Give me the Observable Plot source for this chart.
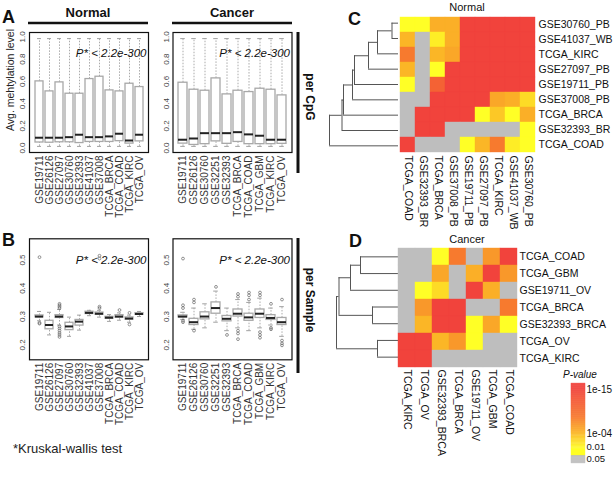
<!DOCTYPE html>
<html><head><meta charset="utf-8">
<script src="https://cdn.jsdelivr.net/npm/d3@7"></script>
<script src="https://cdn.jsdelivr.net/npm/@observablehq/plot@0.6"></script>
<style>
body{margin:0;background:#fff;}
#root{position:relative;width:616px;height:500px;overflow:hidden;background:#fff;}
</style></head><body><div id="root"></div>
<script>
const FONT = '"Liberation Sans", Arial, Helvetica, sans-serif';

// ---------- Panel A: per CpG (box summaries) ----------
const normalSets = ["GSE19711","GSE26126","GSE27097","GSE30760","GSE32393","GSE41037","GSE37008","TCGA_BRCA","TCGA_COAD","TCGA_KIRC","TCGA_OV"];
const cancerSets = ["GSE19711","GSE26126","GSE30760","GSE32251","GSE32393","TCGA_BRCA","TCGA_COAD","TCGA_GBM","TCGA_KIRC","TCGA_OV"];

const cpgNormalLo  = [0.015,0.015,0.015,0.015,0.015,0.015,0.015,0.015,0.015,0.015,0.015];
const cpgNormalQ1  = [0.050,0.048,0.052,0.052,0.045,0.055,0.055,0.055,0.062,0.040,0.060];
const cpgNormalMed = [0.093,0.093,0.093,0.098,0.120,0.098,0.098,0.105,0.129,0.068,0.120];
const cpgNormalQ3  = [0.600,0.510,0.591,0.489,0.489,0.621,0.642,0.519,0.510,0.579,0.549];
const cpgNormalHi  = [0.985,0.985,0.985,0.985,0.985,0.985,0.985,0.985,0.985,0.985,0.985];

const cpgCancerLo  = [0.015,0.015,0.015,0.015,0.015,0.015,0.015,0.015,0.015,0.015];
const cpgCancerQ1  = [0.040,0.028,0.035,0.060,0.038,0.055,0.035,0.035,0.035,0.038];
const cpgCancerMed = [0.075,0.086,0.134,0.134,0.134,0.143,0.123,0.111,0.075,0.075];
const cpgCancerQ3  = [0.588,0.525,0.516,0.627,0.483,0.516,0.504,0.534,0.525,0.474];
const cpgCancerHi  = [0.985,0.985,0.985,0.985,0.985,0.985,0.985,0.985,0.985,0.985];

// ---------- Panel B: per sample ----------
const smpNormalLo  = [0.285,0.235,0.270,0.230,0.252,0.303,0.298,0.283,0.287,0.280,0.300];
const smpNormalQ1  = [0.297,0.255,0.295,0.252,0.268,0.309,0.306,0.292,0.296,0.289,0.306];
const smpNormalMed = [0.300,0.270,0.300,0.265,0.282,0.313,0.310,0.296,0.300,0.293,0.309];
const smpNormalQ3  = [0.304,0.285,0.305,0.278,0.288,0.317,0.314,0.299,0.305,0.297,0.312];
const smpNormalHi  = [0.318,0.315,0.325,0.298,0.305,0.322,0.322,0.307,0.313,0.305,0.318];
const smpNormalOut = [[0.51,0.278,0.275],[],[0.228,0.235,0.242,0.25,0.258,0.265,0.33,0.335,0.34,0.345],[],[],[],[0.33,0.335,0.505,0.515],[],[0.323],[0.272,0.313],[]];

const smpCancerLo  = [0.290,0.255,0.260,0.280,0.250,0.260,0.250,0.260,0.270,0.230];
const smpCancerQ1  = [0.297,0.270,0.290,0.310,0.283,0.300,0.285,0.295,0.288,0.270];
const smpCancerMed = [0.300,0.280,0.300,0.330,0.292,0.310,0.297,0.310,0.295,0.280];
const smpCancerQ3  = [0.304,0.292,0.315,0.350,0.302,0.325,0.310,0.325,0.305,0.295];
const smpCancerHi  = [0.315,0.330,0.345,0.390,0.330,0.360,0.350,0.365,0.330,0.335];
const smpCancerOut = [[0.505,0.34,0.33,0.285,0.28],[0.35,0.36,0.25],[],[0.405],[0.235],[0.37,0.38,0.25,0.24,0.22],[0.36,0.375,0.385],[0.375,0.385,0.245,0.235,0.225],[0.345,0.26,0.255],[0.36,0.215,0.205,0.198]];

const pLabel = "P* < 2.2e-300";
const cpgTicks = [0, 0.2, 0.4, 0.6, 0.8, 1.0];
const smpTicks = [0.2, 0.3, 0.4, 0.5];

// ---------- Panel C: Normal pairwise -log10(P) ----------
const normalRows = ["GSE30760_PB","GSE41037_WB","TCGA_KIRC","GSE27097_PB","GSE19711_PB","GSE37008_PB","TCGA_BRCA","GSE32393_BR","TCGA_COAD"];
const normalCols = ["TCGA_COAD","GSE32393_BR","TCGA_BRCA","GSE37008_PB","GSE19711_PB","GSE27097_PB","TCGA_KIRC","GSE41037_WB","GSE30760_PB"];
const normalNegLogP = [
  [2,   2,   4.5, 4.5, 15, 15, 15, 15, 15],
  [4,   0.5, 2.5, 4.5, 15, 15, 15, 15, 15],
  [8,   0.5, 4,   5,   15, 15, 15, 15, 15],
  [4,   0.5, 2,   15,  15, 15, 15, 15, 15],
  [2,   0.5, 11,  15,  15, 15, 15, 15, 15],
  [0.5, 0.5, 15,  15,  15, 15, 5,  4.5, 3],
  [0.5, 15,  15,  15,  15, 2,  3.5, 2, 4.5],
  [0.5, 15,  15,  0.5, 0.5, 0.5, 0.5, 0.5, 2],
  [15,  0.5, 0.5, 0.5, 2,  4,  8,  2.5, 2]
];
// dendrogram merges: [a, b, height]; negative = leaf (row index+1), positive = earlier merge
const normalMerges = [[-1,-2,6.5],[1,-3,21],[2,-4,30],[3,-5,44],[4,-6,46],[5,-7,55],[6,-8,56.5],[7,-9,69]];

// ---------- Panel D: Cancer pairwise -log10(P) ----------
const cancerRows = ["TCGA_COAD","TCGA_GBM","GSE19711_OV","TCGA_BRCA","GSE32393_BRCA","TCGA_OV","TCGA_KIRC"];
const cancerCols = ["TCGA_KIRC","TCGA_OV","GSE32393_BRCA","TCGA_BRCA","GSE19711_OV","TCGA_GBM","TCGA_COAD"];
const cancerNegLogP = [
  [0.5, 0.5, 2,   8,   0.5, 6,   15],
  [0.5, 0.5, 5,   0.5, 4.5, 15,  6],
  [0.5, 2,   3,   0.5, 15,  4.5, 0.5],
  [0.5, 6,   15,  15,  0.5, 0.5, 8],
  [0.5, 4,   15,  15,  2,   5,   2],
  [15,  15,  4,   6,   2,   0.5, 0.5],
  [15,  15,  0.5, 0.5, 0.5, 0.5, 0.5]
];
const cancerMerges = [[-1,-2,38],[1,-3,48],[-4,-5,26],[2,3,59.5],[-6,-7,21],[4,5,62]];

// ---------- Legend ----------
const legendTickVals = [15, 4];
const legendTickLabels = ["1e-15", "1e-04"];
const legendLowVals = [2, 1.3];
const legendLowLabels = ["0.01", "0.05"];

const heatColor = {
  type: "linear",
  domain: [0, 1.3, 1.301, 2, 4, 8, 15],
  range: ["#bebebe", "#bebebe", "#ffff26", "#ffff26", "#fbb626", "#f77a2e", "#f1433c"],
  clamp: true
};

const root = document.getElementById("root");
function place(node, left, top) {
  node.style.position = "absolute";
  node.style.left = left + "px";
  node.style.top = top + "px";
  root.appendChild(node);
}
const baseStyle = {fontFamily: FONT, background: "none", overflow: "visible", color: "#222"};

function boxPanel(o) {
  const n = o.names.length;
  const rows = o.names.map((name, i) => ({name, lo: o.lo[i], q1: o.q1[i], med: o.med[i], q3: o.q3[i], hi: o.hi[i]}));
  const outs = o.out ? o.names.flatMap((name, i) => o.out[i].map(v => ({name, v}))) : [];
  const width = 150, height = 205;
  const fw = o.frameR - o.frameL;
  const step = fw / (n * 1.08);
  const cap = step * 0.8 / 4;
  const whisk = {stroke: "#a0a0a0", strokeWidth: 0.9, strokeDasharray: "1.5,1.5"};
  const fmt = d3.format(".1f");
  const plot = Plot.plot({
    width, height,
    marginLeft: o.frameL - o.left,
    marginRight: o.left + width - o.frameR,
    marginTop: o.frameT - o.top,
    marginBottom: o.top + height - o.frameB,
    x: {type: "band", domain: o.names, paddingInner: 0.2, paddingOuter: 0.1 + 0.04 * n, label: null},
    y: {domain: o.yDomain, label: null, axis: null},
    style: baseStyle,
    marks: [
      Plot.ruleX(rows, {x: "name", y1: "lo", y2: "q1", ...whisk}),
      Plot.ruleX(rows, {x: "name", y1: "q3", y2: "hi", ...whisk}),
      Plot.tickY(rows, {x: "name", y: "lo", stroke: "#a0a0a0", insetLeft: cap, insetRight: cap}),
      Plot.tickY(rows, {x: "name", y: "hi", stroke: "#a0a0a0", insetLeft: cap, insetRight: cap}),
      Plot.barY(rows, {x: "name", y1: "q1", y2: "q3", fill: "white", stroke: "#a8a8a8", strokeWidth: 1.3, inset: 0}),
      Plot.tickY(rows, {x: "name", y: "med", stroke: "#222", strokeWidth: 2}),
      Plot.dot(outs, {x: "name", y: "v", r: 1.4, stroke: "#666", strokeWidth: 0.7}),
      Plot.frame({stroke: "#111", strokeWidth: 1.2}),
      Plot.text([pLabel], {text: d => d, frameAnchor: "top-right", dx: -2, dy: o.pdy, fontStyle: "italic", fontSize: 11.5, fill: "#111"}),
      Plot.text(o.yTicks, {y: d => d, text: d => fmt(d), frameAnchor: "left", dx: -7, rotate: -90, textAnchor: "middle", fontSize: 8, fill: "#444"}),
      Plot.axisX({tickRotate: -90, fontSize: 10, tickSize: 0, tickPadding: 3, label: null, fill: "#333"})
    ]
  });
  place(plot, o.left, o.top);
}

boxPanel({names: normalSets, lo: cpgNormalLo, q1: cpgNormalQ1, med: cpgNormalMed, q3: cpgNormalQ3, hi: cpgNormalHi,
  yDomain: [-0.04, 1.04], yTicks: cpgTicks, left: 0, top: 25, frameL: 29, frameR: 148, frameT: 32, frameB: 152, pdy: 16});
boxPanel({names: cancerSets, lo: cpgCancerLo, q1: cpgCancerQ1, med: cpgCancerMed, q3: cpgCancerQ3, hi: cpgCancerHi,
  yDomain: [-0.04, 1.04], yTicks: cpgTicks, left: 144, top: 25, frameL: 172.5, frameR: 291.5, frameT: 32, frameB: 152, pdy: 16});
boxPanel({names: normalSets, lo: smpNormalLo, q1: smpNormalQ1, med: smpNormalMed, q3: smpNormalQ3, hi: smpNormalHi, out: smpNormalOut,
  yDomain: [0.147, 0.575], yTicks: smpTicks, left: 0, top: 230, frameL: 29, frameR: 148, frameT: 238.3, frameB: 359.3, pdy: 17});
boxPanel({names: cancerSets, lo: smpCancerLo, q1: smpCancerQ1, med: smpCancerMed, q3: smpCancerQ3, hi: smpCancerHi, out: smpCancerOut,
  yDomain: [0.147, 0.575], yTicks: smpTicks, left: 144, top: 230, frameL: 172.5, frameR: 291.5, frameT: 238.3, frameB: 359.3, pdy: 17});

function heatPanel(rowsN, colsN, mat, left, top, size) {
  const cells = [];
  rowsN.forEach((r, i) => colsN.forEach((c, j) => cells.push({row: r, col: c, v: mat[i][j]})));
  const plot = Plot.plot({
    width: size + 80, height: size + 110,
    marginLeft: 0, marginTop: 0, marginRight: 80, marginBottom: 110,
    x: {type: "band", domain: colsN, padding: 0, label: null},
    y: {type: "band", domain: rowsN, padding: 0, label: null},
    color: heatColor,
    style: baseStyle,
    marks: [
      Plot.cell(cells, {x: "col", y: "row", fill: "v", stroke: "v", strokeWidth: 0.4, inset: 0}),
      Plot.axisX({anchor: "bottom", tickRotate: 90, tickSize: 0, tickPadding: 2, fontSize: 10.5, label: null, fill: "#111"}),
      Plot.axisY({anchor: "right", tickSize: 0, tickPadding: 2, fontSize: 10.5, label: null, fill: "#111"})
    ]
  });
  place(plot, left, top);
}

function dendroPanel(merges, nLeaves, left, top, width, height) {
  const ys = [], hs = [];
  const verticals = [], horizontals = [];
  const get = k => k < 0 ? {y: -k - 1, h: 0} : {y: ys[k - 1], h: hs[k - 1]};
  merges.forEach(([a, b, h]) => {
    const A = get(a), B = get(b);
    verticals.push({h, y1: A.y, y2: B.y});
    horizontals.push({y: A.y, h1: h, h2: A.h});
    horizontals.push({y: B.y, h1: h, h2: B.h});
    ys.push((A.y + B.y) / 2);
    hs.push(h);
  });
  const plot = Plot.plot({
    width, height, margin: 0,
    x: {domain: [0, 80], range: [width, width - 80], axis: null},
    y: {domain: [-0.5, nLeaves - 0.5], range: [0, height], axis: null},
    style: baseStyle,
    marks: [
      Plot.ruleX(verticals, {x: "h", y1: "y1", y2: "y2", stroke: "#555", strokeWidth: 1}),
      Plot.ruleY(horizontals, {y: "y", x1: "h1", x2: "h2", stroke: "#555", strokeWidth: 1})
    ]
  });
  place(plot, left, top);
}

dendroPanel(normalMerges, 9, 318, 15, 80, 138);
heatPanel(normalRows, normalCols, normalNegLogP, 398, 15, 138);
dendroPanel(cancerMerges, 7, 318, 248, 80, 117);
heatPanel(cancerRows, cancerCols, cancerNegLogP, 398, 248, 119);

// legend
{
  const stops = d3.range(0, 16.5, 0.1);
  const plot = Plot.plot({
    width: 56, height: 100, margin: 0,
    x: {domain: [0, 1], range: [11, 25], axis: null},
    y: {type: "linear", domain: [0, 1.3, 2, 4, 15, 16.5], range: [93, 86, 79, 63, 19, 13], axis: null},
    color: heatColor,
    style: baseStyle,
    marks: [
      Plot.rect(stops, {x1: 0, x2: 1, y1: d => d, y2: d => d + 0.1, fill: d => d, stroke: d => d, strokeWidth: 0.3}),
      Plot.text(legendTickVals, {x: 1, y: d => d, text: (d, i) => legendTickLabels[i], textAnchor: "start", dx: 1, fontSize: 10, fill: "#111"}),
      Plot.text(legendLowVals.slice(0, 1), {x: 1, y: d => d, text: (d, i) => legendLowLabels[i], textAnchor: "start", dx: 1, dy: -2.5, fontSize: 9.5, fill: "#111"}),
      Plot.text(legendLowVals.slice(1), {x: 1, y: d => d, text: (d, i) => legendLowLabels[i + 1], textAnchor: "start", dx: 1, dy: 2.5, fontSize: 9.5, fill: "#111"})
    ]
  });
  place(plot, 560, 370);
}

// annotations
const ov = d3.create("svg").attr("width", 616).attr("height", 500)
  .style("position", "absolute").style("left", "0px").style("top", "0px")
  .style("font-family", FONT).style("overflow", "visible");
function txt(x, y, s, {size = 12, weight = "normal", anchor = "start", rotate = 0, italic = false, fill = "#111"} = {}) {
  ov.append("text").attr("transform", `translate(${x},${y}) rotate(${rotate})`)
    .attr("font-size", size).attr("font-weight", weight).attr("text-anchor", anchor)
    .attr("font-style", italic ? "italic" : "normal").attr("fill", fill).text(s);
}
function line(x1, y1, x2, y2, w) {
  ov.append("line").attr("x1", x1).attr("y1", y1).attr("x2", x2).attr("y2", y2).attr("stroke", "#111").attr("stroke-width", w);
}
txt(2, 23, "A", {size: 18, weight: "bold"});
txt(2, 246, "B", {size: 18, weight: "bold"});
txt(348, 25, "C", {size: 18, weight: "bold"});
txt(349, 247, "D", {size: 18, weight: "bold"});
txt(88, 16.5, "Normal", {size: 13, weight: "bold", anchor: "middle"});
txt(232, 16.5, "Cancer", {size: 13, weight: "bold", anchor: "middle"});
line(28, 23, 148, 23, 2.5);
line(172, 23, 292, 23, 2.5);
txt(13.5, 80, "Avg. mehtylation level", {size: 10.5, anchor: "middle", rotate: -90, fill: "#222"});
line(298, 32, 298, 173, 3);
line(298, 238, 298, 373, 3);
txt(306, 97, "per CpG", {size: 12, weight: "bold", anchor: "middle", rotate: 90});
txt(306, 300, "per Sample", {size: 12, weight: "bold", anchor: "middle", rotate: 90});
txt(467, 11, "Normal", {size: 11, anchor: "middle"});
txt(467, 243, "Cancer", {size: 11, anchor: "middle"});
txt(563, 378, "P-value", {size: 10, italic: true});
txt(13, 453, "*Kruskal-wallis test", {size: 13, fill: "#222"});
root.appendChild(ov.node());
</script></body></html>
